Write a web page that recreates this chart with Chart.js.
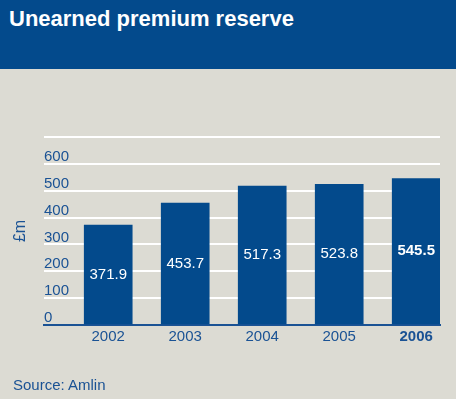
<!DOCTYPE html>
<html>
<head>
<meta charset="utf-8">
<script src="https://cdn.jsdelivr.net/npm/chart.js@4/dist/chart.umd.min.js"></script>
<style>
  html, body { margin: 0; padding: 0; }
  body { width: 456px; height: 399px; background: #dcdbd3; position: relative; overflow: hidden;
         font-family: "Liberation Sans", Arial, sans-serif; }
  #header { position: absolute; left: 0; top: 0; width: 456px; height: 69px; background: #034a8c; }
  #title { position: absolute; left: 9px; top: 8px; color: #ffffff; font-weight: bold;
           font-size: 22px; line-height: 22px; white-space: nowrap; }
  #source { position: absolute; left: 13px; top: 377px; color: #1a5294; font-size: 15px;
            line-height: 15px; white-space: nowrap; }
  #wrap { position: absolute; left: 0; top: 0; width: 456px; height: 399px; }
</style>
</head>
<body>
<div id="header"><div id="title">Unearned premium reserve</div></div>
<div id="wrap"><canvas id="c" width="456" height="399"></canvas></div>
<div id="source">Source: Amlin</div>
<script>
const categories = ['2002', '2003', '2004', '2005', '2006'];
const values = [371.9, 453.7, 517.3, 523.8, 545.5];
const valueLabels = ['371.9', '453.7', '517.3', '523.8', '545.5'];
const yTicks = [0, 100, 200, 300, 400, 500, 600];
const highlightIndex = 4;

const FONT = '"Liberation Sans", Arial, sans-serif';
const BLUE = '#034a8c';
const TEXT_BLUE = '#1a5294';

const barLabels = {
  id: 'barLabels',
  afterDatasetsDraw(chart) {
    const ctx = chart.ctx;
    const meta = chart.getDatasetMeta(0);
    ctx.save();
    ctx.fillStyle = '#ffffff';
    ctx.textAlign = 'center';
    ctx.textBaseline = 'middle';
    meta.data.forEach((bar, i) => {
      ctx.font = (i === highlightIndex ? 'bold ' : '') + '15px ' + FONT;
      ctx.fillText(valueLabels[i], bar.x, (bar.y + bar.base) / 2);
    });
    ctx.restore();
  }
};

new Chart(document.getElementById('c'), {
  type: 'bar',
  data: {
    datasets: [{
      data: categories.map((c, i) => ({ x: i, y: values[i] })),
      backgroundColor: BLUE,
      borderWidth: 0,
      barThickness: 48
    }]
  },
  options: {
    responsive: false,
    animation: false,
    events: [],
    layout: { padding: { left: 6, right: 16, top: 137, bottom: 50 } },
    plugins: { legend: { display: false }, tooltip: { enabled: false }, title: { display: false } },
    scales: {
      x: {
        type: 'linear',
        offset: false,
        min: -0.834,
        max: 4.309,
        grid: { display: false, drawTicks: false, offset: false },
        border: { display: true, color: '#1a5294', width: 2 },
        afterBuildTicks: (s) => { s.ticks = categories.map((c, i) => ({ value: i })); },
        ticks: {
          padding: 3,
          color: TEXT_BLUE,
          autoSkip: false,
          maxRotation: 0,
          font: (ctx) => ({ family: FONT, size: 15,
                            weight: (ctx.tick && ctx.tick.value === highlightIndex) ? 'bold' : 'normal' }),
          callback: (v) => categories[v] !== undefined ? categories[v] : ''
        }
      },
      y: {
        min: 0,
        max: 700,
        grid: { color: '#ffffff', lineWidth: 2, drawTicks: false },
        border: { display: false },
        afterBuildTicks: (s) => { s.ticks = yTicks.concat([700]).map(v => ({ value: v })); },
        ticks: {
          mirror: true,
          padding: 0,
          labelOffset: -7,
          color: TEXT_BLUE,
          font: { family: FONT, size: 15 },
          callback: (v) => yTicks.includes(v) ? String(v) : ''
        },
        title: {
          display: true,
          text: '£m',
          color: TEXT_BLUE,
          font: { family: FONT, size: 16 },
          padding: { top: 4.7, bottom: 14.1 }
        }
      }
    }
  },
  plugins: [barLabels]
});
</script>
</body>
</html>
